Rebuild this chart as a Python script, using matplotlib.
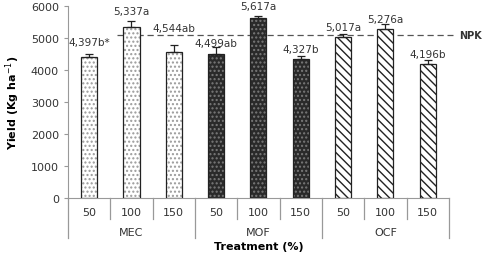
import matplotlib
matplotlib.use("Agg")
import matplotlib.pyplot as plt

# data
groups = ["MEC", "MOF", "OCF"]
doses = ["50", "100", "150"]
yields = [4397, 5337, 4544, 4499, 5617, 4327, 5017, 5276, 4196]
errors = [90, 200, 230, 230, 80, 100, 100, 170, 100]
labels = ["4,397b*", "5,337a", "4,544ab", "4,499ab", "5,617a",
          "4,327b", "5,017a", "5,276a", "4,196b"]
npk_level = 5100

plt.rcParams['font.family'] = ['DejaVu Sans']

fig = plt.figure(figsize=(4.89, 2.55), dpi=100)
ax = fig.add_axes([0.139, 0.22, 0.779, 0.753])

x = list(range(len(yields)))
width = 0.38

styles = [
    dict(facecolor="white", hatch="....", hatchcolor="#9a9a9a"),
    dict(facecolor="#2a2a2a", hatch="....", hatchcolor="#7a7a7a"),
    dict(facecolor="white", hatch="\\\\\\\\", hatchcolor="#222222"),
]

for i, (xi, val, err) in enumerate(zip(x, yields, errors)):
    st = styles[i // 3]
    # hatch layer
    ax.bar(xi, val, width=width, color=st["facecolor"], hatch=st["hatch"],
           edgecolor=st["hatchcolor"], linewidth=0, zorder=2)
    # outline
    ax.bar(xi, val, width=width, fill=False, edgecolor="#222222",
           linewidth=0.9, zorder=3)
    ax.errorbar(xi, val, yerr=[[0], [err]], fmt="none", ecolor="#222222",
                elinewidth=0.9, capsize=3, capthick=0.9, zorder=4)

# value labels above bars
label_offsets = [390, 290, 520, 110, 300, 220, 220, 150, 200]
for xi, val, err, lab, off in zip(x, yields, errors, labels, label_offsets):
    ax.text(xi, val + err + off, lab, ha="center", va="center",
            fontsize=7.5, color="#333333", zorder=5)

# NPK reference line
ax.plot([0.65, 8.6], [npk_level, npk_level], linestyle=(0, (5, 3)),
        color="#555555", linewidth=0.9, zorder=1, clip_on=False)
ax.text(9.0, npk_level, "NPK", ha="center", va="center", fontsize=7,
        color="#333333", fontweight="bold")

ax.set_xlim(-0.5, 8.5)
ax.set_ylim(0, 6000)
ax.set_yticks(range(0, 6001, 1000))
ax.tick_params(axis="y", labelsize=8, labelcolor="#333333", length=3,
               color="#999999")
ax.set_xticks([])
for side in ["top", "right"]:
    ax.spines[side].set_visible(False)
ax.spines["left"].set_color("#999999")
ax.spines["bottom"].set_color("#999999")

# two-level category axis
trans = ax.get_xaxis_transform()
for i in range(len(yields)):
    ax.text(i, -0.073, doses[i % 3], transform=trans, ha="center",
            va="center", fontsize=8, color="#333333")
for g, name in enumerate(groups):
    ax.text(g * 3 + 1, -0.177, name, transform=trans, ha="center",
            va="center", fontsize=8, color="#333333")
for b in range(10):
    xb = b - 0.5
    depth = -0.21 if b % 3 == 0 else -0.11
    ax.plot([xb, xb], [0, depth], transform=trans, color="#999999",
            linewidth=0.9, clip_on=False)

ax.set_xlabel("Treatment (%)", fontsize=8, fontweight="bold", labelpad=31)
ax.set_ylabel("Yield (Kg ha$^{-1}$)", fontsize=8, fontweight="bold",
              labelpad=6)

fig.savefig("out.png", dpi=100)
